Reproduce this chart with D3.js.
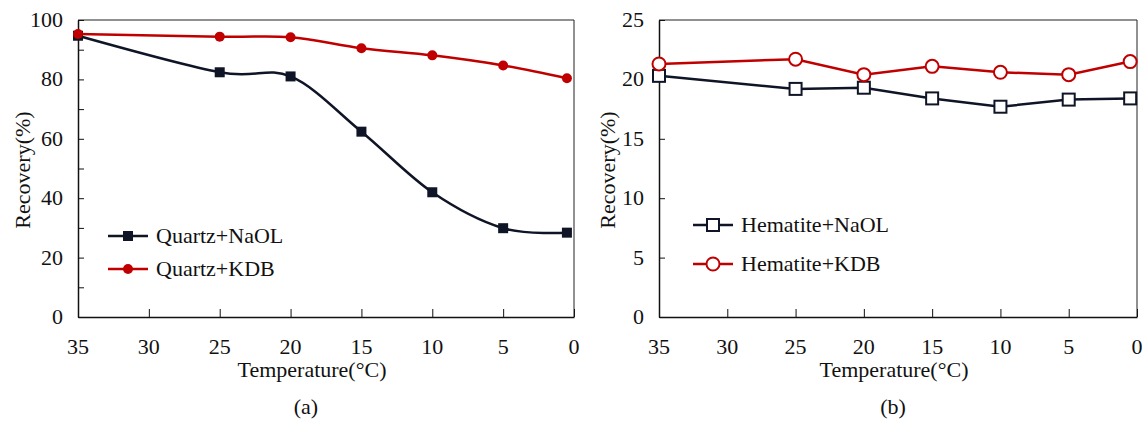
<!DOCTYPE html>
<html>
<head>
<meta charset="utf-8">
<script src="https://cdn.jsdelivr.net/npm/d3@7"></script>
<style>
  body { margin: 0; background: #fff; }
</style>
</head>
<body>
<div id="chart"></div>
<script>
// temperatures (last point sits just right of 0)
let temps = [35, 25, 20, 15, 10, 5, 0.5];
let xTicks = [35, 30, 25, 20, 15, 10, 5, 0];

let quartzNaOL = [94.7, 82.4, 81.0, 62.4, 42.0, 29.9, 28.4];
let quartzKDB = [95.3, 94.4, 94.2, 90.5, 88.1, 84.7, 80.4];
let hematiteNaOL = [20.3, 19.2, 19.3, 18.4, 17.7, 18.3, 18.4];
let hematiteKDB = [21.3, 21.7, 20.4, 21.1, 20.6, 20.4, 21.5];

let navy = "#0f1526";
let red = "#c00000";
let serif = "'Liberation Serif', Tinos, 'Times New Roman', Times, serif";
let fs = 22;

let svg = d3.select("#chart")
    .append("svg")
    .attr("width", 1146)
    .attr("height", 422)
    .attr("font-family", serif)
    .style("font-family", serif);

function label(g) {
    return g.append("text")
        .attr("font-family", serif)
        .attr("font-size", fs)
        .attr("fill", "#111");
}

function panel(opt) {
    let x = d3.scaleLinear().domain([35, 0]).range([opt.left, opt.right]);
    let y = d3.scaleLinear().domain([0, opt.yMax]).range([317, 20]);
    let g = svg.append("g");

    // frame on top and right
    g.append("path")
        .attr("d", "M" + opt.left + ",20H" + opt.right + "V317")
        .attr("fill", "none")
        .attr("stroke", "#222")
        .attr("stroke-width", 1);

    // y axis, ticks pointing inward
    let yAxis = g.append("g")
        .attr("transform", "translate(" + opt.left + ",0)")
        .call(d3.axisRight(y).tickValues(opt.yMinor).tickSize(6).tickFormat("").tickSizeOuter(0));
    yAxis.select(".domain").attr("stroke", "#111").attr("stroke-width", 1.5);
    yAxis.selectAll(".tick line").attr("stroke", "#111");

    opt.yTicks.forEach(d => {
        label(g)
            .attr("x", opt.left - 15)
            .attr("y", y(d) + 7)
            .attr("text-anchor", "end")
            .text(d);
    });

    // x axis
    let xAxis = g.append("g")
        .attr("transform", "translate(0,317)")
        .call(d3.axisTop(x).tickValues(xTicks).tickSize(8).tickFormat("").tickSizeOuter(0));
    xAxis.select(".domain").attr("stroke", "#111").attr("stroke-width", 1.5);
    xAxis.selectAll(".tick line").attr("stroke", "#111");

    xTicks.forEach(d => {
        label(g)
            .attr("x", x(d))
            .attr("y", 354)
            .attr("text-anchor", "middle")
            .text(d);
    });

    label(g)
        .attr("x", opt.xTitleX)
        .attr("y", 377)
        .attr("text-anchor", "middle")
        .text("Temperature(\u00b0C)");

    label(g)
        .attr("transform", "translate(" + opt.titleX + ",170) rotate(-90)")
        .attr("text-anchor", "middle")
        .text("Recovery(%)");

    label(g)
        .attr("x", opt.tagX)
        .attr("y", 414)
        .attr("text-anchor", "middle")
        .text(opt.tag);

    let line = d3.line()
        .x((d, i) => x(temps[i]))
        .y(d => y(d))
        .curve(opt.curve);

    opt.series.forEach(s => {
        g.append("path")
            .datum(s.values)
            .attr("fill", "none")
            .attr("stroke", s.color)
            .attr("stroke-width", 2.5)
            .attr("d", line);
    });

    function marker(sel, s, cx, cy) {
        if (s.shape === "square") {
            sel.append("rect")
                .attr("x", cx - s.size / 2)
                .attr("y", cy - s.size / 2)
                .attr("width", s.size)
                .attr("height", s.size)
                .attr("fill", s.hollow ? "#fff" : s.color)
                .attr("stroke", s.color)
                .attr("stroke-width", s.hollow ? 2 : 0);
        } else {
            sel.append("circle")
                .attr("cx", cx)
                .attr("cy", cy)
                .attr("r", s.size / 2)
                .attr("fill", s.hollow ? "#fff" : s.color)
                .attr("stroke", s.color)
                .attr("stroke-width", s.hollow ? 2 : 0);
        }
    }

    opt.series.forEach(s => {
        s.values.forEach((v, i) => marker(g, s, x(temps[i]), y(v)));
    });

    // legend
    opt.series.forEach((s, i) => {
        let ly = opt.legendY + i * opt.legendGap;
        g.append("line")
            .attr("x1", opt.legendX)
            .attr("x2", opt.legendX + 40)
            .attr("y1", ly)
            .attr("y2", ly)
            .attr("stroke", s.color)
            .attr("stroke-width", 2.5);
        marker(g, s, opt.legendX + 20, ly);
        label(g)
            .attr("x", opt.legendX + 48)
            .attr("y", ly + 7)
            .text(s.name);
    });
}

panel({
    left: 78, right: 574, yMax: 100,
    yTicks: [0, 20, 40, 60, 80, 100],
    yMinor: d3.range(0, 101, 10),
    titleX: 30, tag: "(a)", xTitleX: 312, tagX: 306,
    curve: d3.curveCardinal.tension(0),
    legendX: 108, legendY: 236, legendGap: 33,
    series: [
        { name: "Quartz+NaOL", values: quartzNaOL, color: navy, shape: "square", size: 10, hollow: false },
        { name: "Quartz+KDB", values: quartzKDB, color: red, shape: "circle", size: 10, hollow: false }
    ]
});

panel({
    left: 659, right: 1137, yMax: 25,
    yTicks: [0, 5, 10, 15, 20, 25],
    yMinor: d3.range(0, 26, 5),
    titleX: 615, tag: "(b)", xTitleX: 894, tagX: 893,
    curve: d3.curveLinear,
    legendX: 693, legendY: 225, legendGap: 39,
    series: [
        { name: "Hematite+NaOL", values: hematiteNaOL, color: navy, shape: "square", size: 12, hollow: true },
        { name: "Hematite+KDB", values: hematiteKDB, color: red, shape: "circle", size: 13, hollow: true }
    ]
});
</script>
</body>
</html>
